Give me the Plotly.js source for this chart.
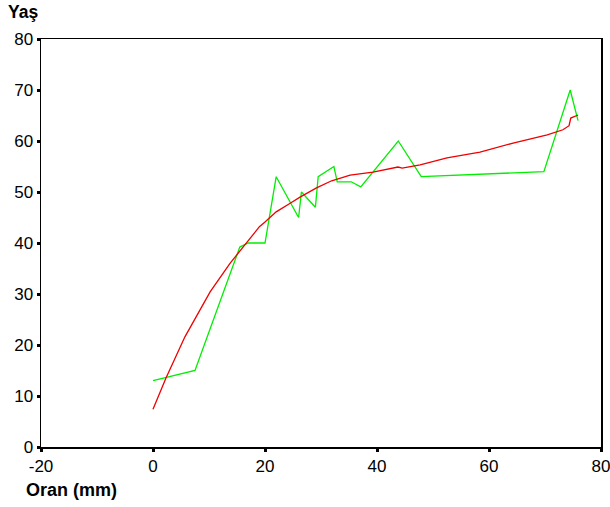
<!DOCTYPE html>
<html>
<head>
<meta charset="utf-8">
<script src="https://cdn.plot.ly/plotly-3.0.1.min.js"></script>
<style>html,body{margin:0;padding:0;background:#fff}</style>
</head>
<body>
<div id="chart" style="width:610px;height:507px"></div>
<script>
// Green series (observed)
var greenX = [0, 7.5, 15.5, 17, 20, 22, 26, 26.5, 29, 29.5, 32.3, 32.9, 35.4, 37.1, 43.8, 47.9, 69.8, 74.5, 75.9];
var greenY = [13, 15, 39.2, 40, 40, 53, 45, 50, 47, 53, 55, 52, 52, 51, 60, 53, 54, 70, 64];
// Red series (fitted curve)
var redX = [0, 2.3, 5.7, 8.7, 10.2, 13.75, 17, 19, 20, 22, 24.5, 26.25, 29.2, 31.9, 35.2, 39.3, 43.75, 44.5, 47.7, 52.5, 58.4, 64.3, 70.4, 73.2, 74.3, 74.6, 75.9];
var redY = [7.4, 13.5, 21.6, 27.3, 30.4, 36, 40.6, 43.2, 44.1, 46.1, 47.8, 49, 50.8, 52.2, 53.3, 53.9, 54.9, 54.7, 55.3, 56.7, 57.8, 59.6, 61.2, 62.2, 63, 64.5, 65.1];
var xTicks = [-20, 0, 20, 40, 60, 80];
var yTicks = [0, 10, 20, 30, 40, 50, 60, 70, 80];

var font = 'Arial, "Liberation Sans", sans-serif';
var traces = [
  {x: greenX, y: greenY, mode: 'lines', line: {color: '#00ee00', width: 1.3}, hoverinfo: 'none'},
  {x: redX, y: redY, mode: 'lines', line: {color: '#ee0000', width: 1.3}, hoverinfo: 'none'}
];
var layout = {
  width: 610, height: 507,
  margin: {l: 41, r: 9, t: 39, b: 60},
  paper_bgcolor: '#fff', plot_bgcolor: '#fff',
  showlegend: false,
  font: {family: font, size: 17, color: '#000'},
  xaxis: {
    range: [-20, 80], tickvals: xTicks, ticktext: xTicks.map(String),
    showgrid: false, zeroline: false, showline: true, mirror: true,
    linecolor: '#000', linewidth: 1.5,
    ticks: 'outside', ticklen: 3, tickwidth: 3, tickcolor: '#000',
    ticklabeloverflow: 'allow',
    tickfont: {family: font, size: 17, color: '#000'}
  },
  yaxis: {
    range: [0, 80], tickvals: yTicks, ticktext: yTicks.map(String),
    showgrid: false, zeroline: false, showline: true, mirror: true,
    linecolor: '#000', linewidth: 1.5,
    ticks: 'outside', ticklen: 3, tickwidth: 3, tickcolor: '#000',
    ticklabeloverflow: 'allow',
    tickfont: {family: font, size: 17, color: '#000'}
  },
  annotations: [
    {text: '<b>Yaş</b>', xref: 'paper', yref: 'paper', x: -0.0625, y: 1.066, xanchor: 'left', yanchor: 'middle', showarrow: false, font: {family: font, size: 17.5, color: '#000'}},
    {text: '<b>Oran (mm)</b>', xref: 'paper', yref: 'paper', x: -0.0304, y: -0.106, xanchor: 'left', yanchor: 'middle', showarrow: false, font: {family: font, size: 18, color: '#000'}}
  ]
};
Plotly.newPlot('chart', traces, layout, {displayModeBar: false, staticPlot: true});
</script>
</body>
</html>
